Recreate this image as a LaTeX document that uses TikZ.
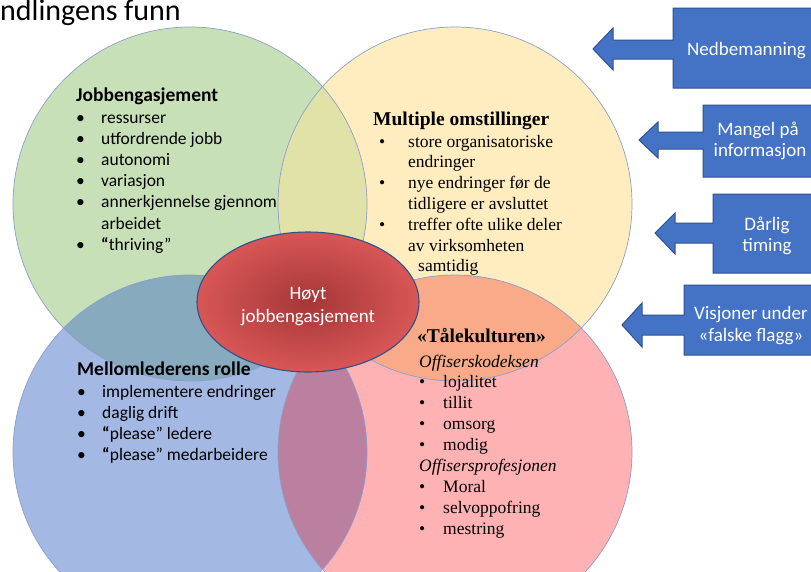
\documentclass[tikz,border=0pt]{standalone}
\usepackage{fontspec}
\setmainfont{Liberation Serif}
\newfontfamily\calfont{Carlito}
\usetikzlibrary{shapes.geometric}
\definecolor{cgreen}{HTML}{C8E0B7}
\definecolor{cyellow}{HTML}{FFEDC0}
\definecolor{cblue}{HTML}{A3B8E2}
\definecolor{cred}{HTML}{FFB2B4}
\definecolor{cgy}{HTML}{E1E2A8}
\definecolor{cyr}{HTML}{F9AA88}
\definecolor{cgb}{HTML}{87AABE}
\definecolor{cbr}{HTML}{BB7FA0}
\definecolor{cborder}{HTML}{8A9FCB}
\definecolor{ellin}{HTML}{A53737}
\definecolor{ellout}{HTML}{D85656}
\definecolor{ellline}{HTML}{2F528F}
\definecolor{abl}{HTML}{4472C4}
\definecolor{abd}{HTML}{2F528F}
\tikzset{
  ring/.style={draw=cborder, line width=0.7pt},
  arrowbox/.style={fill=abl, draw=abd, line width=1pt, line join=miter},
  whitetext/.style={text=white, font=\calfont\fontsize{19}{21.5}\selectfont, align=center, inner sep=0pt},
  calhead/.style={anchor=base west, inner sep=0pt, font=\calfont\fontsize{19.5}{21}\selectfont\bfseries},
  serhead/.style={anchor=base west, inner sep=0pt, font=\fontsize{19.5}{21}\selectfont\bfseries},
  listnode/.style={anchor=base west, inner sep=0pt}
}
\begin{document}
\begin{tikzpicture}[x=1pt,y=-1pt]
\clip (0,0) rectangle (811,571);
\fill[white] (0,0) rectangle (811,571);
% circles
\coordinate (cg) at (190,204);
\coordinate (cy) at (455,204);
\coordinate (cb) at (190,452);
\coordinate (cr) at (455,452);
\fill[cgreen] (cg) circle (177pt);
\fill[cyellow] (cy) circle (177pt);
\fill[cblue] (cb) circle (177pt);
\fill[cred] (cr) circle (177pt);
\begin{scope}\clip (cg) circle (177pt); \fill[cgy] (cy) circle (177pt); \fill[cgb] (cb) circle (177pt);\end{scope}
\begin{scope}\clip (cr) circle (177pt); \fill[cyr] (cy) circle (177pt); \fill[cbr] (cb) circle (177pt);\end{scope}
\draw[ring] (cg) circle (177pt);
\draw[ring] (cy) circle (177pt);
\draw[ring] (cb) circle (177pt);
\draw[ring] (cr) circle (177pt);
% title
\node[anchor=base west, inner sep=0pt, font=\calfont\fontsize{30}{35}\selectfont] (title) at (0,20) {ndlingens funn};
% Jobbengasjement
\node[calhead] (h1) at (76,101) {Jobbengasjement};
\node[listnode] (l1) at (76,123) {\calfont\fontsize{17.5}{21.2}\selectfont
\begin{tabular}[t]{@{}p{25pt}@{}l@{}}
•&ressurser\\
•&utfordrende jobb\\
•&autonomi\\
•&variasjon\\
•&annerkjennelse gjennom\\
&arbeidet\\
•&{\bfseries “}thriving”
\end{tabular}};
% Multiple omstillinger
\node[serhead] (h2) at (373,125) {Multiple omstillinger};
\node[listnode] (l2) at (379,147) {\fontsize{17.5}{20.8}\selectfont
\begin{tabular}[t]{@{}p{29pt}@{}l@{}}
•&store organisatoriske\\
&endringer\\
•&nye endringer før de\\
&tidligere er avsluttet\\
•&treffer ofte ulike deler\\
&av virksomheten\\
&\hspace{10pt}samtidig
\end{tabular}};
% Mellomlederens rolle
\node[calhead] (h3) at (77,375) {Mellomlederens rolle};
\node[listnode] (l3) at (77,397) {\calfont\fontsize{17.5}{21}\selectfont
\begin{tabular}[t]{@{}p{25pt}@{}l@{}}
•&implementere endringer\\
•&daglig drift\\
•&{\bfseries “}please” ledere\\
•&{\bfseries “}please” medarbeidere
\end{tabular}};
% Talekulturen
\node[serhead] (h4) at (417,342) {«Tålekulturen»};
\node[listnode] (l4) at (419,367) {\fontsize{17.5}{20.9}\selectfont
\begin{tabular}[t]{@{}p{24pt}@{}l@{}}
\multicolumn{2}{@{}l@{}}{\itshape Offiserskodeksen}\\
•&lojalitet\\
•&tillit\\
•&omsorg\\
•&modig\\
\multicolumn{2}{@{}l@{}}{\itshape Offisersprofesjonen}\\
•&Moral\\
•&selvoppofring\\
•&mestring
\end{tabular}};
% central ellipse
\node[ellipse, minimum width=222pt, minimum height=140pt, inner sep=0pt, draw=ellline, line width=1.1pt, inner color=ellin, outer color=ellout] (core) at (308,302) {};
\node[whitetext, anchor=base] (core1) at (308,299) {Høyt};
\node[whitetext, anchor=base] (core2) at (308,322) {jobbengasjement};
% arrows
\draw[arrowbox] (840,8) -- (673,8) -- (673,40) -- (613,40) -- (613,28) -- (593,49) -- (613,70) -- (613,59) -- (673,59) -- (673,88) -- (840,88) -- cycle;
\node[whitetext, anchor=base] (a1) at (746.5,55) {Nedbemanning};
\draw[arrowbox] (840,105) -- (703,105) -- (703,132) -- (658,132) -- (658,122) -- (639,140) -- (658,158) -- (658,149) -- (703,149) -- (703,177) -- (840,177) -- cycle;
\node[whitetext, anchor=base] (a2a) at (758,135) {Mangel på};
\node[whitetext, anchor=base] (a2b) at (760,156) {informasjon};
\draw[arrowbox] (840,194) -- (713,194) -- (713,223) -- (675,223) -- (675,213) -- (655,233) -- (675,254) -- (675,243) -- (713,243) -- (713,273) -- (840,273) -- cycle;
\node[whitetext, anchor=base] (a3a) at (767,230) {Dårlig};
\node[whitetext, anchor=base] (a3b) at (767,251) {timing};
\draw[arrowbox] (840,285) -- (684,285) -- (684,315) -- (642,315) -- (642,303) -- (622,325) -- (642,347) -- (642,335) -- (684,335) -- (684,355) -- (840,355) -- cycle;
\node[whitetext, anchor=base] (a4a) at (751,319) {Visjoner under};
\node[whitetext, anchor=base] (a4b) at (751,341) {«falske flagg»};
\end{tikzpicture}
\end{document}
